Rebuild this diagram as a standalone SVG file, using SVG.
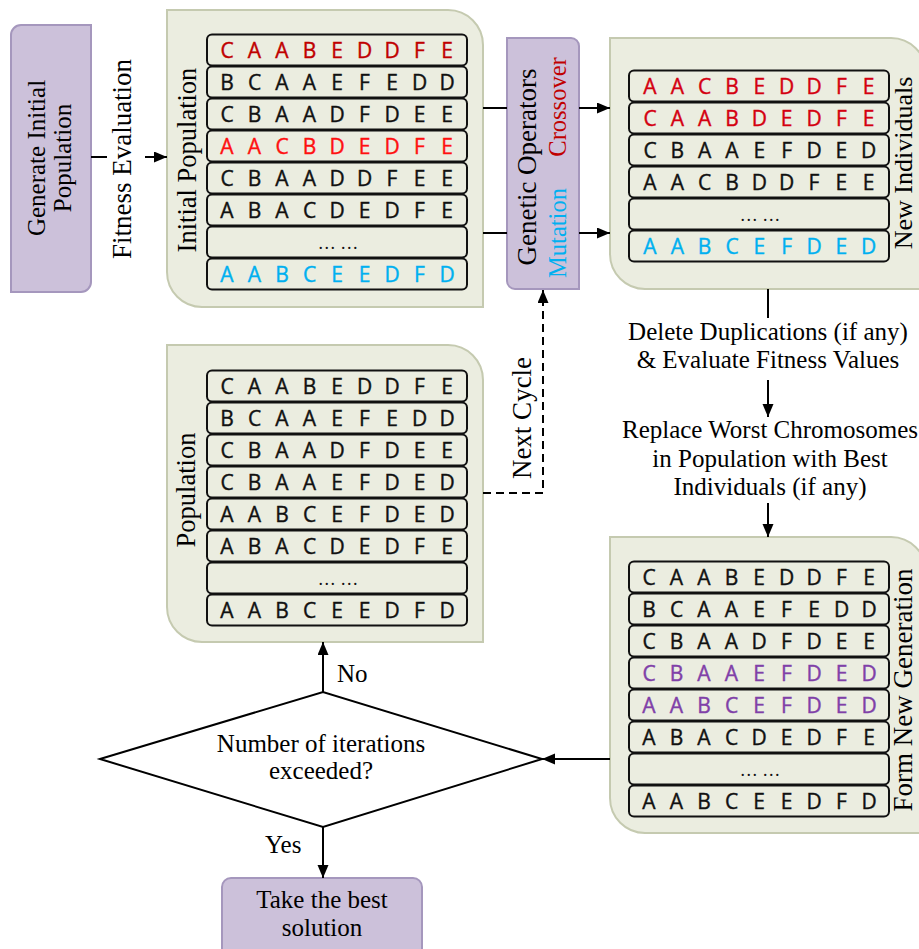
<svg xmlns="http://www.w3.org/2000/svg" width="919" height="949" viewBox="0 0 919 949">
<defs>
<marker id="arr" markerUnits="userSpaceOnUse" markerWidth="15" markerHeight="12" refX="13" refY="5.5" orient="auto">
<path d="M0,0 L13,5.5 L0,11 Z" fill="#000"/>
</marker>
<style>
.purple{fill:#ccc1da;stroke:#a597bd;stroke-width:2}
.green{fill:#ebede0;stroke:#c5cab0;stroke-width:2}
.row{fill:none;stroke:#111;stroke-width:2}
.g{font-family:"Open Sans","Noto Sans",sans-serif;font-size:21px;text-anchor:middle;fill:#111;stroke:#111;stroke-width:0.4}
.dots{font-family:"Liberation Serif",serif;font-size:18px;text-anchor:middle;fill:#111}
.s{font-family:"Liberation Serif",serif;font-size:25px;text-anchor:middle;fill:#000}
.conn{stroke:#000;stroke-width:2;fill:none}
.red1{fill:#c00000;stroke:#c00000}
.red2{fill:#ff1010;stroke:#ff1010}
.red3{fill:#d40010;stroke:#d40010}
.cyan{fill:#00b0f0;stroke:#00b0f0}
.purp{fill:#8040a8;stroke:#8040a8}
</style>
</defs>

<g id="generate-initial">
<path class="purple" d="M21,25 H91 V282 A10,10 0 0 1 81,292 H11 V35 A10,10 0 0 1 21,25 Z"/>
<text class="s" transform="translate(45,158) rotate(-90)">Generate Initial</text>
<text class="s" transform="translate(71,158) rotate(-90)">Population</text>
</g>

<g id="initial-population">
<path class="green" d="M167,10 H448 A35,35 0 0 1 483,45 V307 H202 A35,35 0 0 1 167,272 Z"/>
<text class="s" style="font-size:26.5px" transform="translate(196,160) rotate(-90)">Initial Population</text>
<g transform="translate(207,34)">
<rect class="row" x="0" y="0.5" width="260" height="31" rx="5"/>
<rect class="row" x="0" y="32.5" width="260" height="31" rx="5"/>
<rect class="row" x="0" y="64.5" width="260" height="31" rx="5"/>
<rect class="row" x="0" y="96.5" width="260" height="31" rx="5"/>
<rect class="row" x="0" y="128.5" width="260" height="31" rx="5"/>
<rect class="row" x="0" y="160.5" width="260" height="31" rx="5"/>
<rect class="row" x="0" y="192.5" width="260" height="31" rx="5"/>
<rect class="row" x="0" y="224.5" width="260" height="31" rx="5"/>
<text class="g red1" x="20 47.5 75 102.5 130 157.5 185 212.5 240" y="24">CAABEDDFE</text>
<text class="g" x="20 47.5 75 102.5 130 157.5 185 212.5 240" y="56">BCAAEFEDD</text>
<text class="g" x="20 47.5 75 102.5 130 157.5 185 212.5 240" y="88">CBAADFDEE</text>
<text class="g red2" x="20 47.5 75 102.5 130 157.5 185 212.5 240" y="120">AACBDEDFE</text>
<text class="g" x="20 47.5 75 102.5 130 157.5 185 212.5 240" y="152">CBAADDFEE</text>
<text class="g" x="20 47.5 75 102.5 130 157.5 185 212.5 240" y="184">ABACDEDFE</text>
<text class="dots" x="131" y="215">… …</text>
<text class="g cyan" x="20 47.5 75 102.5 130 157.5 185 212.5 240" y="248">AABCEEDFD</text>
</g>
</g>

<g id="genetic-operators">
<path class="purple" d="M507,38 H571 A8,8 0 0 1 579,46 V289 H515 A8,8 0 0 1 507,281 Z"/>
<text class="s" style="font-size:27px" transform="translate(536,167) rotate(-90)">Genetic Operators</text>
<text class="s" style="font-size:24.5px;fill:#c00000" transform="translate(566,107) rotate(-90)">Crossover</text>
<text class="s" style="font-size:24.5px;fill:#00b0f0" transform="translate(566,233) rotate(-90)">Mutation</text>
</g>

<g id="new-individuals">
<path class="green" d="M610,38 H891 A35,35 0 0 1 926,73 V289 H645 A35,35 0 0 1 610,254 Z"/>
<text class="s" style="font-size:26px" transform="translate(912,163) rotate(-90)">New Individuals</text>
<g transform="translate(629,70)">
<rect class="row" x="0" y="0.5" width="260" height="31" rx="5"/>
<rect class="row" x="0" y="32.5" width="260" height="31" rx="5"/>
<rect class="row" x="0" y="64.5" width="260" height="31" rx="5"/>
<rect class="row" x="0" y="96.5" width="260" height="31" rx="5"/>
<rect class="row" x="0" y="128.5" width="260" height="31" rx="5"/>
<rect class="row" x="0" y="160.5" width="260" height="31" rx="5"/>
<text class="g red3" x="21 48.3 75.6 103 130.3 157.6 185 212.3 239.6" y="24">AACBEDDFE</text>
<text class="g red3" x="21 48.3 75.6 103 130.3 157.6 185 212.3 239.6" y="56">CAABDEDFE</text>
<text class="g" x="21 48.3 75.6 103 130.3 157.6 185 212.3 239.6" y="88">CBAAEFDED</text>
<text class="g" x="21 48.3 75.6 103 130.3 157.6 185 212.3 239.6" y="120">AACBDDFEE</text>
<text class="dots" x="131" y="151">… …</text>
<text class="g cyan" x="21 48.3 75.6 103 130.3 157.6 185 212.3 239.6" y="184">AABCEFDED</text>
</g>
</g>

<g id="population">
<path class="green" d="M167,345 H448 A35,35 0 0 1 483,380 V642 H202 A35,35 0 0 1 167,607 Z"/>
<text class="s" style="font-size:26.5px" transform="translate(195,490) rotate(-90)">Population</text>
<g transform="translate(207,370)">
<rect class="row" x="0" y="0.5" width="260" height="31" rx="5"/>
<rect class="row" x="0" y="32.5" width="260" height="31" rx="5"/>
<rect class="row" x="0" y="64.5" width="260" height="31" rx="5"/>
<rect class="row" x="0" y="96.5" width="260" height="31" rx="5"/>
<rect class="row" x="0" y="128.5" width="260" height="31" rx="5"/>
<rect class="row" x="0" y="160.5" width="260" height="31" rx="5"/>
<rect class="row" x="0" y="192.5" width="260" height="31" rx="5"/>
<rect class="row" x="0" y="224.5" width="260" height="31" rx="5"/>
<text class="g" x="20 47.5 75 102.5 130 157.5 185 212.5 240" y="24">CAABEDDFE</text>
<text class="g" x="20 47.5 75 102.5 130 157.5 185 212.5 240" y="56">BCAAEFEDD</text>
<text class="g" x="20 47.5 75 102.5 130 157.5 185 212.5 240" y="88">CBAADFDEE</text>
<text class="g" x="20 47.5 75 102.5 130 157.5 185 212.5 240" y="120">CBAAEFDED</text>
<text class="g" x="20 47.5 75 102.5 130 157.5 185 212.5 240" y="152">AABCEFDED</text>
<text class="g" x="20 47.5 75 102.5 130 157.5 185 212.5 240" y="184">ABACDEDFE</text>
<text class="dots" x="131" y="215">… …</text>
<text class="g" x="20 47.5 75 102.5 130 157.5 185 212.5 240" y="248">AABCEEDFD</text>
</g>
</g>

<g id="form-new-generation">
<path class="green" d="M610,537 H891 A35,35 0 0 1 926,572 V833 H645 A35,35 0 0 1 610,798 Z"/>
<text class="s" style="font-size:27px" transform="translate(912,690) rotate(-90)">Form New Generation</text>
<g transform="translate(629,561)">
<rect class="row" x="0" y="0.5" width="260" height="31" rx="5"/>
<rect class="row" x="0" y="32.5" width="260" height="31" rx="5"/>
<rect class="row" x="0" y="64.5" width="260" height="31" rx="5"/>
<rect class="row" x="0" y="96.5" width="260" height="31" rx="5"/>
<rect class="row" x="0" y="128.5" width="260" height="31" rx="5"/>
<rect class="row" x="0" y="160.5" width="260" height="31" rx="5"/>
<rect class="row" x="0" y="192.5" width="260" height="31" rx="5"/>
<rect class="row" x="0" y="224.5" width="260" height="31" rx="5"/>
<text class="g" x="20 47.5 75 102.5 130 157.5 185 212.5 240" y="24">CAABEDDFE</text>
<text class="g" x="20 47.5 75 102.5 130 157.5 185 212.5 240" y="56">BCAAEFEDD</text>
<text class="g" x="20 47.5 75 102.5 130 157.5 185 212.5 240" y="88">CBAADFDEE</text>
<text class="g purp" x="20 47.5 75 102.5 130 157.5 185 212.5 240" y="120">CBAAEFDED</text>
<text class="g purp" x="20 47.5 75 102.5 130 157.5 185 212.5 240" y="152">AABCEFDED</text>
<text class="g" x="20 47.5 75 102.5 130 157.5 185 212.5 240" y="184">ABACDEDFE</text>
<text class="dots" x="131" y="215">… …</text>
<text class="g" x="20 47.5 75 102.5 130 157.5 185 212.5 240" y="248">AABCEEDFD</text>
</g>
</g>

<g id="decision">
<polygon points="100,759 323,692 542,759 323,827" fill="#fff" stroke="#000" stroke-width="2"/>
<text class="s" x="321" y="752">Number of iterations</text>
<text class="s" x="321" y="779">exceeded?</text>
</g>

<g id="take-best">
<rect class="purple" x="222" y="878" width="200" height="90" rx="9"/>
<text class="s" x="322" y="908">Take the best</text>
<text class="s" x="322" y="936">solution</text>
</g>

<g id="connectors">
<line class="conn" x1="91" y1="157" x2="107" y2="157"/>
<line class="conn" x1="145" y1="157" x2="167" y2="157" marker-end="url(#arr)"/>
<line class="conn" x1="483" y1="108" x2="507" y2="108"/>
<line class="conn" x1="483" y1="233" x2="507" y2="233"/>
<line class="conn" x1="579" y1="108" x2="610" y2="108" marker-end="url(#arr)"/>
<line class="conn" x1="579" y1="233" x2="610" y2="233" marker-end="url(#arr)"/>
<line class="conn" x1="768" y1="289" x2="768" y2="318"/>
<line class="conn" x1="768" y1="380" x2="768" y2="417" marker-end="url(#arr)"/>
<line class="conn" x1="768" y1="503" x2="768" y2="537" marker-end="url(#arr)"/>
<line class="conn" x1="610" y1="759" x2="542" y2="759" marker-end="url(#arr)"/>
<line class="conn" x1="323" y1="692" x2="323" y2="642" marker-end="url(#arr)"/>
<line class="conn" x1="323" y1="827" x2="323" y2="878" marker-end="url(#arr)"/>
<polyline class="conn" points="483,493 543,493 543,290" stroke-dasharray="8,5" marker-end="url(#arr)"/>
<text class="s" style="font-size:27px" transform="translate(131,159) rotate(-90)">Fitness Evaluation</text>
<text class="s" style="font-size:27px" transform="translate(531,418) rotate(-90)">Next Cycle</text>
<text class="s" x="768" y="340">Delete Duplications (if any)</text>
<text class="s" x="768" y="368">&amp; Evaluate Fitness Values</text>
<text class="s" x="770" y="438">Replace Worst Chromosomes</text>
<text class="s" x="770" y="466.5">in Population with Best</text>
<text class="s" x="770" y="495">Individuals (if any)</text>
<text class="s" x="337" y="682" style="text-anchor:start">No</text>
<text class="s" x="265" y="853" style="text-anchor:start">Yes</text>
</g>
</svg>
